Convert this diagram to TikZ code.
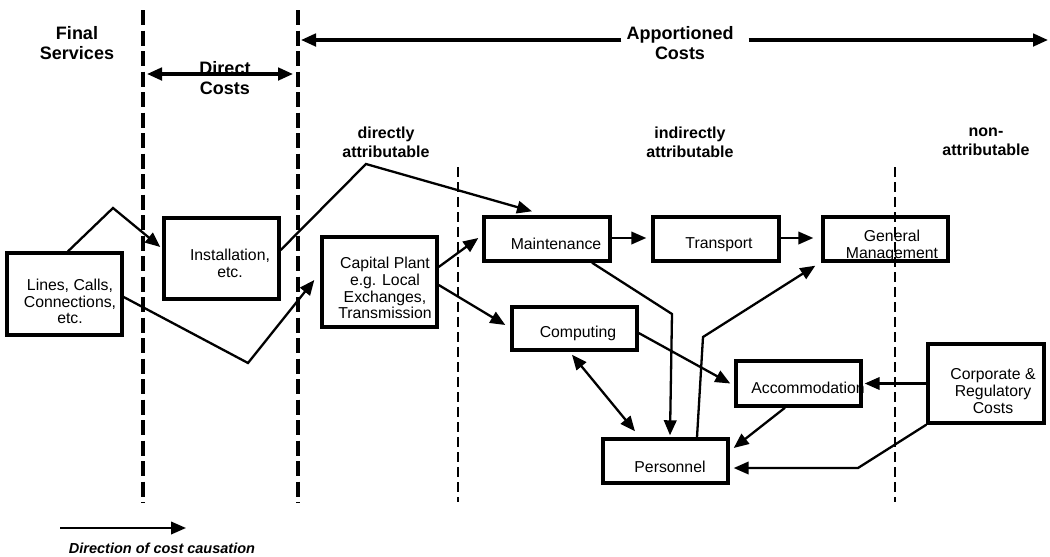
\documentclass[tikz,border=0pt]{standalone}
\usepackage{fontspec}
\setmainfont{Liberation Sans}
\usetikzlibrary{arrows.meta}

\begin{document}
\begin{tikzpicture}[>={Triangle[length=15pt,width=12.5pt]},x=1pt,y=-1pt,
	box/.style={draw,line width=3.4pt,inner sep=0pt},
	boxtxt/.style={align=center,inner sep=0pt,font=\fontsize{15.8}{16.7}\selectfont},
	head/.style={align=center,inner sep=0pt,font=\fontsize{18}{20}\selectfont\bfseries},
	subhead/.style={align=center,inner sep=0pt,font=\fontsize{16}{19}\selectfont\bfseries},
	flow/.style={->,line width=2.3pt},
	bigdash/.style={line width=3.2pt,dash pattern=on 15pt off 5.5pt},
	smalldash/.style={line width=2.2pt,dash pattern=on 10pt off 5pt}]
	\useasboundingbox (0,0) rectangle (1050,557);
	% Cột phân chia
	\draw[bigdash] (143,10) -- (143,503);
	\draw[bigdash] (298,10) -- (298,503);
	\draw[smalldash] (458,167) -- (458,502);
	\draw[smalldash] (895,167) -- (895,502);
	% Tiêu đề
	\node[head] (final) at (77,43) {Final\\Services};
	\node[head] (direct) at (225,78) {Direct\\Costs};
	\node[head] (app) at (680,43) {Apportioned\\Costs};
	\node[subhead] (dattr) at (386,142) {directly\\attributable};
	\node[subhead] (iattr) at (690,142) {indirectly\\attributable};
	\node[subhead] (nattr) at (986,142) {non-\\attributable};
	\coordinate (dcl) at (147,74);
	\coordinate (dcr) at (293,74);
	\coordinate (apl) at (301,40);
	\coordinate (apr) at (1048,40);
	\draw[<->,line width=3.2pt] (dcl) -- (dcr);
	\draw[->,line width=3.2pt] ([xshift=-5pt,yshift=3pt]app.west) -- (apl);
	\draw[->,line width=3.2pt] ([xshift=15pt,yshift=3pt]app.east) -- (apr);
	% Các hộp
	\node[box,minimum width=115,minimum height=82] (lines) at (64.5,294) {};
	\node[boxtxt] (linest) at (70,301.5) {Lines, Calls,\\Connections,\\etc.};
	\node[box,minimum width=115,minimum height=81] (inst) at (221.5,258.5) {};
	\node[boxtxt] (instt) at (230,263) {Installation,\\etc.};
	\node[box,minimum width=115,minimum height=90] (cap) at (379.5,282) {};
	\node[boxtxt] (capt) at (385,288) {Capital Plant\\e.g. Local\\Exchanges,\\Transmission};
	\node[box,minimum width=126,minimum height=44] (mnt) at (547,239) {};
	\node[boxtxt] (mntt) at (556,244) {Maintenance};
	\node[box,minimum width=126,minimum height=44] (trn) at (716,239) {};
	\node[boxtxt] (trnt) at (719,245) {Transport};
	\node[box,minimum width=125,minimum height=44] (gm) at (885.5,239) {};
	\node[boxtxt] (gmt) at (892,246) {General\\Management};
	\node[box,minimum width=125,minimum height=43] (comp) at (574.5,328.5) {};
	\node[boxtxt] (compt) at (578,333) {Computing};
	\node[box,minimum width=125,minimum height=45] (acc) at (798.5,383.5) {};
	\node[boxtxt] (acct) at (808,388) {Accommodation};
	\node[box,minimum width=116,minimum height=79] (corp) at (986,383.5) {};
	\node[boxtxt] (corpt) at (993,391) {Corporate \&\\Regulatory\\Costs};
	\node[box,minimum width=125,minimum height=44] (pers) at (665.5,461) {};
	\node[boxtxt] (perst) at (670,467) {Personnel};
	% Mũi tên
	\draw[flow] ([xshift=3.5pt]lines.north) -- (113,208) -- ([xshift=-2pt,yshift=11.5pt]inst.west);
	\draw[flow] ([yshift=-3pt]lines.east) -- (248,363) -- ([xshift=-6pt,yshift=2pt]cap.west);
	\draw[flow] ([yshift=8.5pt]inst.east) -- (366,164) -- ([xshift=-15pt,yshift=4pt]mnt.north);
	\draw[flow] ([yshift=15pt]cap.east) -- ([xshift=-4pt,yshift=1pt]mnt.west);
	\draw[flow] ([yshift=-3pt]cap.east) -- ([xshift=-5pt,yshift=3.5pt]comp.west);
	\draw[flow] ([yshift=1pt]mnt.east) -- ([xshift=-5pt,yshift=1pt]trn.west);
	\draw[flow] ([yshift=1pt]trn.east) -- ([xshift=-8pt,yshift=1pt]gm.west);
	\draw[flow] ([xshift=45pt]mnt.south) -- (672,314) -- ([xshift=4.5pt,yshift=2pt]pers.north);
	\draw[flow] ([xshift=31.5pt]pers.north) -- (703,337) -- ([xshift=-6pt,yshift=-3pt]gm.south west);
	\draw[flow] ([yshift=-4.5pt]comp.east) -- ([xshift=-4pt]acc.west);
	\draw[<->,line width=2.3pt] ([xshift=-2.5pt,yshift=-3pt]comp.south) -- ([xshift=-30.5pt,yshift=6pt]pers.north);
	\draw[flow] ([xshift=-13.5pt]acc.south) -- ([xshift=4pt,yshift=13pt]pers.east);
	\draw[flow] (corp.west) -- ([xshift=2pt]acc.east);
	\draw[flow] (corp.south west) -- (858,468) -- ([xshift=4pt,yshift=-7pt]pers.east);
	% Chú thích
	\coordinate (lgl) at (60,528);
	\coordinate (lgr) at (186,528);
	\draw[flow] (lgl) -- (lgr);
	\node[inner sep=0pt,font=\fontsize{14.5}{16}\selectfont\bfseries\itshape] (legend) at (162,548) {Direction of cost causation};
\end{tikzpicture}
\end{document}
